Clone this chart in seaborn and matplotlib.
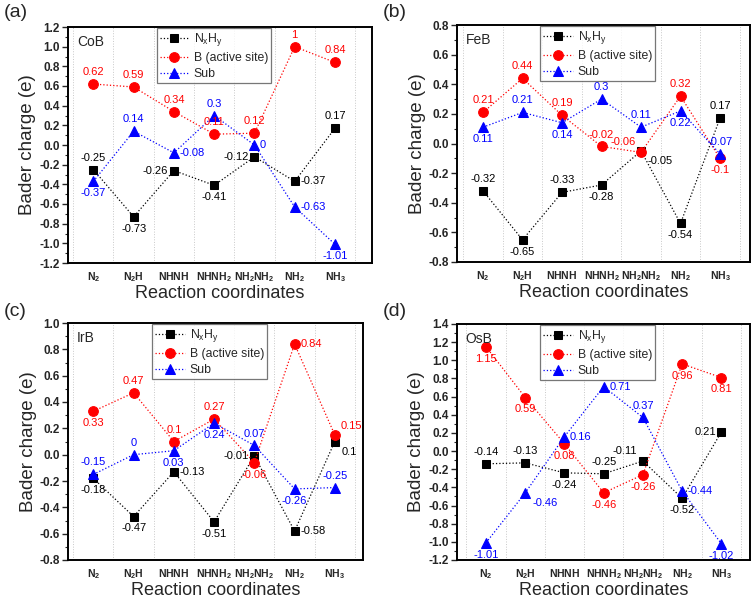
import matplotlib
matplotlib.use("Agg")
import matplotlib.pyplot as plt
from matplotlib.ticker import MultipleLocator, FormatStrFormatter
import seaborn as sns
import numpy as np

sns.set_theme(style="white")
plt.rcParams['font.family'] = ['Liberation Sans', 'DejaVu Sans']
plt.rcParams['mathtext.fontset'] = 'custom'
plt.rcParams['mathtext.rm'] = 'Liberation Sans'
plt.rcParams['mathtext.it'] = 'Liberation Sans'
plt.rcParams['mathtext.bf'] = 'Liberation Sans:bold'

categories = [r'$\mathbf{N_2}$', r'$\mathbf{N_2H}$', r'$\mathbf{NHNH}$', r'$\mathbf{NHNH_2}$',
              r'$\mathbf{NH_2NH_2}$', r'$\mathbf{NH_2}$', r'$\mathbf{NH_3}$']
series_names = [r'N$_x$H$_y$', 'B (active site)', 'Sub']

panel_labels = ['(a)', '(b)', '(c)', '(d)']
materials = ['CoB', 'FeB', 'IrB', 'OsB']

cob_nxhy = [-0.25, -0.73, -0.26, -0.41, -0.12, -0.37, 0.17]
cob_b = [0.62, 0.59, 0.34, 0.11, 0.12, 1, 0.84]
cob_sub = [-0.37, 0.14, -0.08, 0.3, 0, -0.63, -1.01]

feb_nxhy = [-0.32, -0.65, -0.33, -0.28, -0.05, -0.54, 0.17]
feb_b = [0.21, 0.44, 0.19, -0.02, -0.06, 0.32, -0.1]
feb_sub = [0.11, 0.21, 0.14, 0.3, 0.11, 0.22, -0.07]

irb_nxhy = [-0.18, -0.47, -0.13, -0.51, -0.01, -0.58, 0.1]
irb_b = [0.33, 0.47, 0.1, 0.27, -0.06, 0.84, 0.15]
irb_sub = [-0.15, 0, 0.03, 0.24, 0.07, -0.26, -0.25]

osb_nxhy = [-0.14, -0.13, -0.24, -0.25, -0.11, -0.52, 0.21]
osb_b = [1.15, 0.59, 0.08, -0.46, -0.26, 0.96, 0.81]
osb_sub = [-1.01, -0.46, 0.16, 0.71, 0.37, -0.44, -1.02]

data = [(cob_nxhy, cob_b, cob_sub), (feb_nxhy, feb_b, feb_sub),
        (irb_nxhy, irb_b, irb_sub), (osb_nxhy, osb_b, osb_sub)]

# label placement codes (style): a=above, b=below, l=left, r=right
placements = [
    (['a', 'b', 'l', 'b', 'l', 'r', 'a'], ['a'] * 7, ['b', 'a', 'r', 'a', 'r', 'r', 'b']),
    (['a', 'b', 'a', 'b', 'br', 'b', 'a'], ['a', 'a', 'a', 'a', 'al', 'a', 'b'], ['b', 'a', 'b', 'a', 'a', 'b', 'a']),
    (['b', 'b', 'r', 'b', 'l', 'r', 'br'], ['b', 'a', 'a', 'a', 'b', 'r', 'ar'], ['a', 'a', 'b', 'b', 'a', 'b', 'a']),
    (['a', 'a', 'b', 'a', 'al', 'b', 'l'], ['b'] * 7, ['b', 'br', 'r', 'r', 'a', 'r', 'b']),
]

ylims = [(-1.2, 1.2), (-0.8, 0.8), (-0.8, 1.0), (-1.2, 1.4)]
xlims = [(-0.63, 6.92), (-0.66, 6.76), (-0.63, 6.7), (-0.74, 6.73)]
rects_px = [(68, 27, 372, 263), (457, 25, 750, 262), (68, 323, 363, 560), (457, 324, 750, 560)]
label_px = [(4, 4), (383, 4), (4, 303), (383, 303)]

colors = ['black', '#ff0000', '#0000ff']
markers = ['s', 'o', '^']
msizes = [6, 7, 7]

W, H = 756, 599
fig = plt.figure(figsize=(W / 100, H / 100), dpi=100)

offs = {'a': (0, 5, 'center', 'bottom'), 'b': (0, -5, 'center', 'top'),
        'l': (-4, 0, 'right', 'center'), 'r': (4, 0, 'left', 'center'),
        'br': (5, -4, 'left', 'top'), 'ar': (4, 3, 'left', 'bottom'),
        'al': (-4, 4, 'right', 'bottom')}

x = np.arange(len(categories))
for i in range(4):
    l, t, r, b = rects_px[i]
    ax = fig.add_axes([l / W, 1 - b / H, (r - l) / W, (b - t) / H])
    for k in range(3):
        sns.lineplot(x=x, y=data[i][k], ax=ax, color=colors[k], marker=markers[k],
                     markersize=msizes[k], markeredgecolor=colors[k], linestyle=':',
                     linewidth=0.9, label=series_names[k])
        for j, v in enumerate(data[i][k]):
            dx, dy, ha, va = offs[placements[i][k][j]]
            ax.annotate(f"{v:g}", (x[j], v), xytext=(dx, dy), textcoords='offset points',
                        ha=ha, va=va, fontsize=8, color=colors[k])
    ax.set_xlim(*xlims[i])
    ax.set_ylim(*ylims[i])
    for gx in np.arange(-0.5, 7, 1.0):
        ax.axvline(gx, color='#c8c8c8', linestyle=':', linewidth=0.7, zorder=0)
    ax.set_xticks(x)
    ax.set_xticklabels(categories, fontsize=7.5)
    ax.yaxis.set_major_locator(MultipleLocator(0.2))
    ax.yaxis.set_minor_locator(MultipleLocator(0.1))
    ax.yaxis.set_major_formatter(FormatStrFormatter('%.1f'))
    for lab in ax.get_yticklabels():
        lab.set_fontweight('bold')
        lab.set_fontsize(8.5)
    ax.tick_params(axis='y', which='major', direction='out', length=4, width=1, left=True, pad=2)
    ax.tick_params(axis='y', which='minor', direction='out', length=2, width=0.8, left=True)
    ax.tick_params(axis='x', length=0, pad=5)
    for s in ax.spines.values():
        s.set_linewidth(1.4)
        s.set_color('black')
    ax.set_ylabel('Bader charge (e)', fontsize=13.5, labelpad=2)
    ax.set_xlabel('Reaction coordinates', fontsize=13, labelpad=1)
    ax.text(0.03, 0.965, materials[i], transform=ax.transAxes, fontsize=10, ha='left', va='top')
    leg = ax.legend(loc='upper center', bbox_to_anchor=(0.48, 1.0), fontsize=8.8,
                    frameon=True, fancybox=False, edgecolor='#555555', borderpad=0.25,
                    labelspacing=0.33, handlelength=2.4, handletextpad=0.4, borderaxespad=0.1)
    leg.get_frame().set_linewidth(0.9)
    lx, ly = label_px[i]
    fig.text(lx / W, 1 - ly / H, panel_labels[i], fontsize=14, ha='left', va='top')

fig.savefig('out.png', dpi=100)
